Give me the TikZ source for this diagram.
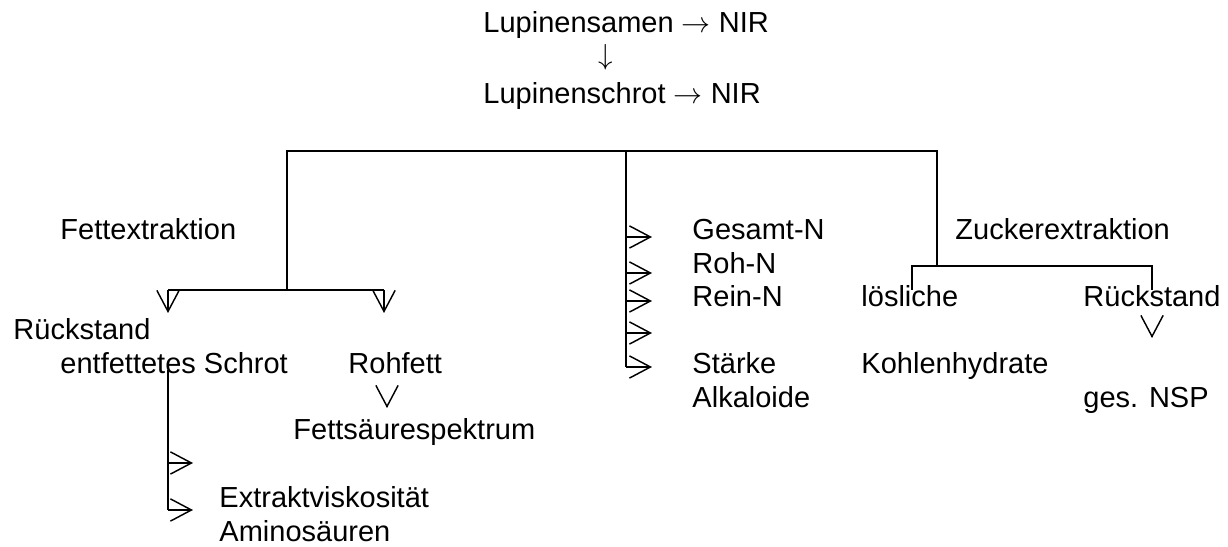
\documentclass[tikz,border=0pt]{standalone}
\usepackage{fontspec}
\setmainfont{Liberation Sans}
\usepackage{tikz}
\usetikzlibrary{arrows.meta}

\begin{document}
\begin{tikzpicture}[x=0.4138pt,y=-0.4138pt,
  txt/.style={anchor=base west,inner sep=0pt,font=\fontsize{12pt}{14pt}\selectfont},
  ln/.style={line width=0.6pt,color=clin},
  vtip/.style={ln,-{Straight Barb[length=8.7pt,width=9.2pt,line width=0.6pt]}}]
%
\useasboundingbox (0,0) rectangle (1228,547);
%
\definecolor{clin}{rgb}{0.0,0.0,0.0}
%
\node[txt] (ls) at (483,33) {Lupinensamen $\rightarrow$ NIR};
\node[anchor=center,inner sep=0pt,font=\fontsize{12pt}{14pt}\selectfont] (dn) at (606,57.5) {$\downarrow$};
\node[txt] (lsch) at (483,104) {Lupinenschrot $\rightarrow$ NIR};
%
\node[txt] (fe) at (60,240) {Fettextraktion};
\node[txt] (rs0) at (13,340) {Rückstand};
\node[txt] (es) at (60,374) {entfettetes Schrot};
\node[txt] (rf) at (348,374) {Rohfett};
\node[txt] (fs) at (293,440) {Fettsäurespektrum};
\node[txt] (ev) at (219,508) {Extraktviskosität};
\node[txt] (as) at (219,541.5) {Aminosäuren};
%
\node[txt] (gn) at (692,240) {Gesamt-N};
\node[txt] (rhn) at (692,273.5) {Roh-N};
\node[txt] (rn) at (692,307) {Rein-N};
\node[txt] (st) at (692,374) {Stärke};
\node[txt] (al) at (692,407.5) {Alkaloide};
%
\node[txt] (ze) at (955,240) {Zuckerextraktion};
\node[txt] (lo) at (861,307) {lösliche};
\node[txt] (rs1) at (1083,307) {Rückstand};
\node[txt] (kh) at (861,374) {Kohlenhydrate};
\node[txt] (ns) at (1083,407.5) {ges. NSP};
%
\coordinate (f0) at (287,290);
\coordinate (m0) at (626,151);
\coordinate (m1) at (626,367);
\coordinate (z0) at (937,266);
\draw[ln] (f0) |- (m0) -| (z0);
\draw[ln] (m0) -- (m1);
%
\coordinate (fl) at (168,290);
\coordinate (fr) at (384,290);
\coordinate (fl1) at (168,313);
\coordinate (fr1) at (384,313);
\draw[ln] (fl) -- (fr);
\draw[vtip] (fl) -- (fl1);
\draw[vtip] (fr) -- (fr1);
%
\foreach \y [count=\i] in {237,273,301,333,367}{
  \coordinate (ma\i) at (626,\y);
  \coordinate (mb\i) at (652,\y);
  \draw[vtip] (ma\i) -- (mb\i);
}
%
\coordinate (s0) at (168,370);
\coordinate (s1) at (168,510);
\draw[ln] (s0) -- (s1);
\foreach \y [count=\i] in {463,510}{
  \coordinate (sa\i) at (168,\y);
  \coordinate (sb\i) at (193,\y);
  \draw[vtip] (sa\i) -- (sb\i);
}
%
\coordinate (r1) at (387,408);
\draw[vtip] ([yshift=0.5pt]r1) -- (r1);
%
\coordinate (zl) at (912,266);
\coordinate (zr) at (1152,266);
\coordinate (zl1) at (912,290);
\coordinate (zr1) at (1152,290);
\draw[ln] (zl1) -- (zl) -- (zr) -- (zr1);
\coordinate (n1) at (1152,338);
\draw[vtip] ([yshift=0.5pt]n1) -- (n1);
%
\end{tikzpicture}
\end{document}
